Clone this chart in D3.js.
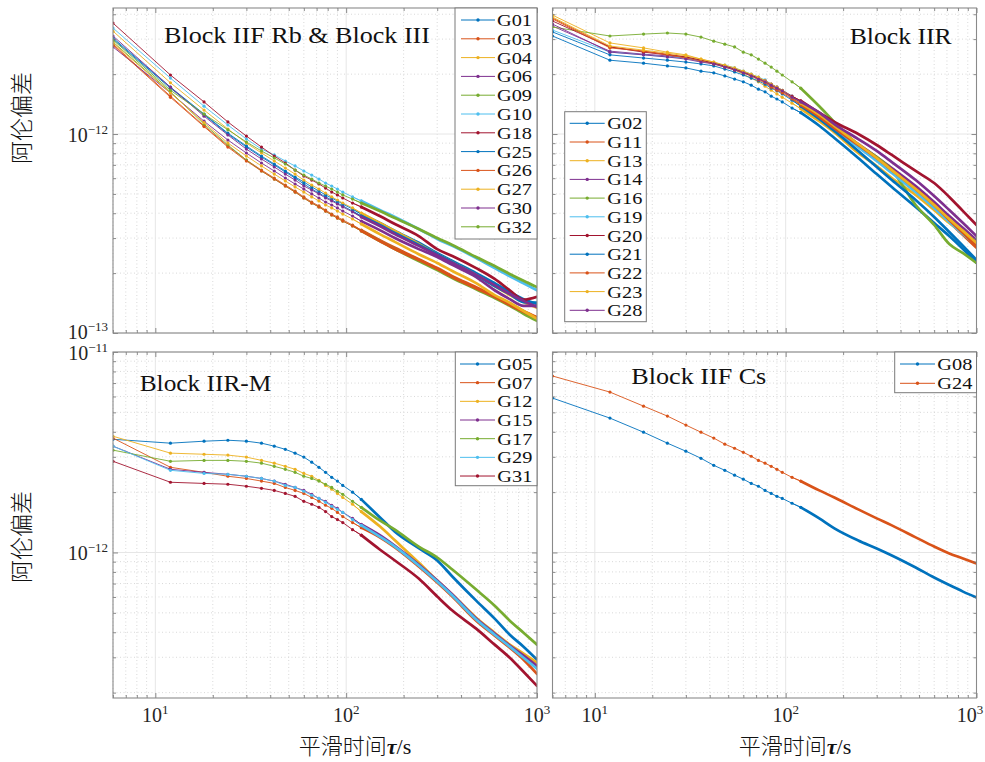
<!DOCTYPE html>
<html><head><meta charset="utf-8">
<script src="https://cdn.jsdelivr.net/npm/d3@7"></script>
<style>body{margin:0;background:#fff}</style>
</head><body>
<svg id="chart" width="985" height="762"></svg>
<script>
// ---------------- DATA (Allan deviation, values in units of 1e-12) ----------------
const UNIT = 1e-12;
const tau = [6,12,18,24,30,36,42,48,54,60,66,72,78,84,90,96,108,120,150,180,240,300,360,480,600,720,850,1000];

// Block IIF Rb & Block III
const namesRb = ["G01","G03","G04","G06","G09","G10","G18","G25","G26","G27","G30","G32"];
const G01 = [3.04,1.72,1.26,1.01,0.871,0.775,0.707,0.652,0.608,0.574,0.542,0.517,0.494,0.477,0.461,0.445,0.420,0.396,0.357,0.326,0.284,0.252,0.230,0.200,0.178,0.161,0.148,0.140];
const G03 = [2.83,1.55,1.10,0.871,0.740,0.659,0.601,0.554,0.517,0.483,0.455,0.435,0.415,0.396,0.383,0.370,0.349,0.329,0.293,0.268,0.235,0.212,0.193,0.170,0.153,0.140,0.129,0.120];
const G04 = [3.29,1.81,1.32,1.06,0.901,0.803,0.732,0.675,0.629,0.587,0.554,0.529,0.505,0.483,0.466,0.450,0.425,0.401,0.357,0.326,0.280,0.249,0.227,0.196,0.172,0.155,0.143,0.134];
const G06 = [2.74,1.61,1.16,0.933,0.803,0.715,0.652,0.601,0.561,0.529,0.500,0.477,0.455,0.440,0.425,0.410,0.387,0.365,0.329,0.300,0.264,0.241,0.220,0.191,0.164,0.148,0.137,0.137];
const G09 = [2.90,1.63,1.12,0.881,0.740,0.652,0.594,0.548,0.511,0.477,0.450,0.430,0.410,0.392,0.378,0.365,0.345,0.326,0.290,0.264,0.230,0.207,0.189,0.166,0.150,0.137,0.125,0.115];
const G10 = [3.41,1.91,1.38,1.11,0.944,0.840,0.785,0.732,0.691,0.652,0.622,0.594,0.567,0.548,0.529,0.511,0.483,0.461,0.415,0.383,0.333,0.297,0.274,0.238,0.212,0.193,0.178,0.164];
const G18 = [3.61,1.98,1.45,1.15,0.977,0.860,0.775,0.715,0.659,0.615,0.587,0.561,0.535,0.511,0.494,0.477,0.450,0.430,0.387,0.353,0.307,0.264,0.244,0.212,0.187,0.164,0.147,0.152];
const G25 = [3.00,1.70,1.25,1.00,0.860,0.766,0.699,0.644,0.601,0.561,0.529,0.505,0.483,0.466,0.450,0.435,0.410,0.387,0.349,0.318,0.277,0.249,0.227,0.196,0.172,0.157,0.143,0.142];
const G26 = [2.80,1.53,1.09,0.860,0.732,0.652,0.594,0.548,0.511,0.477,0.450,0.430,0.410,0.392,0.378,0.365,0.345,0.326,0.290,0.264,0.233,0.210,0.191,0.168,0.152,0.138,0.128,0.119];
const G27 = [2.87,1.61,1.14,0.901,0.775,0.691,0.629,0.581,0.542,0.511,0.483,0.461,0.440,0.425,0.410,0.396,0.374,0.353,0.314,0.287,0.249,0.225,0.205,0.178,0.155,0.142,0.129,0.118];
const G30 = [3.11,1.72,1.23,0.989,0.840,0.749,0.683,0.629,0.587,0.548,0.523,0.500,0.477,0.461,0.445,0.430,0.406,0.383,0.345,0.314,0.274,0.246,0.225,0.196,0.174,0.157,0.145,0.135];
const G32 = [2.97,1.66,1.26,1.05,0.912,0.822,0.758,0.707,0.659,0.622,0.594,0.567,0.548,0.529,0.511,0.494,0.471,0.450,0.410,0.378,0.333,0.300,0.277,0.241,0.217,0.198,0.183,0.170];

// Block IIR
const namesIIR = ["G02","G11","G13","G14","G16","G19","G20","G21","G22","G23","G28"];
const G02 = [3.11,2.35,2.27,2.20,2.15,2.07,2.03,1.96,1.89,1.83,1.76,1.68,1.63,1.55,1.50,1.45,1.35,1.28,1.10,0.955,0.758,0.629,0.542,0.430,0.357,0.307,0.264,0.225];
const G11 = [3.83,2.74,2.61,2.52,2.44,2.35,2.27,2.20,2.12,2.05,1.98,1.89,1.83,1.74,1.68,1.63,1.52,1.42,1.23,1.07,0.871,0.740,0.644,0.517,0.430,0.361,0.311,0.268];
const G13 = [3.96,2.87,2.71,2.58,2.50,2.38,2.30,2.20,2.10,2.00,1.91,1.83,1.74,1.66,1.59,1.53,1.43,1.34,1.16,1.02,0.803,0.691,0.601,0.494,0.415,0.357,0.318,0.287];
const G14 = [3.49,2.61,2.52,2.47,2.41,2.33,2.27,2.20,2.12,2.05,1.98,1.91,1.85,1.76,1.70,1.65,1.53,1.43,1.25,1.09,0.891,0.766,0.675,0.548,0.455,0.387,0.337,0.293];
const G16 = [3.45,3.11,3.18,3.22,3.18,3.07,2.93,2.83,2.74,2.58,2.50,2.38,2.27,2.17,2.07,1.98,1.83,1.70,1.38,1.15,0.881,0.766,0.659,0.440,0.349,0.280,0.252,0.225];
const G19 = [3.33,2.58,2.50,2.44,2.41,2.33,2.27,2.22,2.15,2.07,2.00,1.93,1.87,1.78,1.72,1.66,1.55,1.45,1.23,1.07,0.860,0.732,0.637,0.511,0.425,0.361,0.314,0.277];
const G20 = [3.70,2.74,2.58,2.50,2.44,2.35,2.27,2.20,2.12,2.05,1.98,1.91,1.85,1.78,1.72,1.66,1.55,1.47,1.28,1.15,1.00,0.881,0.785,0.652,0.567,0.483,0.410,0.349];
const G21 = [3.26,2.50,2.41,2.35,2.30,2.25,2.20,2.12,2.05,1.98,1.91,1.85,1.78,1.70,1.65,1.59,1.48,1.38,1.19,1.035,0.822,0.683,0.587,0.466,0.383,0.322,0.274,0.233];
const G22 = [3.79,2.71,2.61,2.50,2.41,2.33,2.25,2.17,2.10,2.03,1.96,1.87,1.81,1.72,1.66,1.61,1.50,1.40,1.22,1.07,0.881,0.758,0.659,0.529,0.440,0.370,0.318,0.274];
const G23 = [3.87,2.77,2.64,2.55,2.47,2.38,2.30,2.22,2.15,2.07,2.00,1.93,1.85,1.78,1.72,1.66,1.53,1.43,1.25,1.10,0.891,0.758,0.659,0.529,0.440,0.374,0.326,0.284];
const G28 = [3.57,2.58,2.50,2.44,2.38,2.30,2.25,2.17,2.10,2.03,1.96,1.89,1.83,1.76,1.70,1.65,1.53,1.45,1.28,1.12,0.944,0.822,0.723,0.587,0.488,0.415,0.357,0.307];

// Block IIR-M
const namesIIRM = ["G05","G07","G12","G15","G17","G29","G31"];
const G05 = [3.67,3.51,3.59,3.63,3.59,3.51,3.39,3.27,3.13,2.99,2.82,2.66,2.51,2.37,2.27,2.16,2.00,1.84,1.50,1.27,1.05,0.912,0.759,0.575,0.468,0.389,0.339,0.292];
const G07 = [3.72,2.66,2.51,2.40,2.34,2.27,2.21,2.11,2.04,1.97,1.88,1.80,1.72,1.66,1.585,1.51,1.41,1.33,1.19,1.06,0.851,0.708,0.603,0.457,0.385,0.335,0.292,0.248];
const G12 = [3.80,3.13,3.09,3.06,2.99,2.88,2.79,2.69,2.60,2.48,2.40,2.29,2.16,2.07,1.97,1.88,1.74,1.60,1.35,1.15,0.891,0.724,0.617,0.473,0.398,0.347,0.313,0.282];
const G15 = [3.39,2.60,2.51,2.455,2.40,2.34,2.27,2.19,2.11,2.04,1.95,1.86,1.80,1.72,1.66,1.585,1.48,1.38,1.22,1.08,0.871,0.724,0.617,0.468,0.394,0.343,0.306,0.272];
const G17 = [3.24,2.85,2.88,2.88,2.85,2.79,2.69,2.60,2.51,2.40,2.34,2.27,2.19,2.11,2.02,1.95,1.80,1.68,1.445,1.30,1.07,0.944,0.822,0.653,0.543,0.457,0.398,0.347];
const G29 = [3.39,2.57,2.48,2.455,2.40,2.34,2.27,2.16,2.11,2.02,1.93,1.86,1.78,1.70,1.64,1.585,1.46,1.365,1.20,1.07,0.861,0.716,0.610,0.463,0.389,0.339,0.2985,0.263];
const G31 = [2.85,2.24,2.21,2.19,2.14,2.09,2.04,1.97,1.905,1.80,1.74,1.68,1.60,1.51,1.46,1.41,1.30,1.22,1.035,0.912,0.741,0.603,0.513,0.417,0.347,0.2985,0.254,0.216];

// Block IIF Cs
const namesCs = ["G08","G24"];
const G08 = [5.89,4.68,3.98,3.51,3.20,2.95,2.72,2.57,2.43,2.32,2.21,2.14,2.04,1.97,1.905,1.86,1.76,1.68,1.48,1.32,1.148,1.047,0.966,0.841,0.750,0.688,0.638,0.596];
const G24 = [7.59,6.31,5.37,4.79,4.32,3.98,3.72,3.47,3.31,3.16,3.02,2.88,2.79,2.69,2.60,2.51,2.37,2.27,2.04,1.88,1.64,1.48,1.365,1.19,1.07,0.989,0.933,0.881];

// ---------------- LAYOUT ----------------
const COLORS = ['#0072BD','#D95319','#EDB120','#7E2F8E','#77AC30','#4DBEEE','#A2142F'];
const SERIF = "'Liberation Serif','Times New Roman',serif";
const CJK = "'Noto Sans CJK SC','Noto Sans CJK JP',sans-serif";

const panels = [
  {id:'tl', title:'Block IIF Rb & Block III', names:namesRb, data:[G01,G03,G04,G06,G09,G10,G18,G25,G26,G27,G30,G32],
   x0:113, x1:537, y0:8, y1:333, ydom:[1e-13,4.3e-12], tx:164, ty:43, tw:266,
   leg:{x:455,y:8,w:82,h:231,first:20,step:18.8,l0:461,l1:495,tx:497}, yLabels:true, xLabels:false},
  {id:'tr', title:'Block IIR', names:namesIIR, data:[G02,G11,G13,G14,G16,G19,G20,G21,G22,G23,G28],
   x0:552.5, x1:976.5, y0:8, y1:333, ydom:[1e-13,4.3e-12], tx:849.7, ty:44, tw:102,
   leg:{x:564.7,y:111.7,w:81.6,h:210,first:123.3,step:18.7,l0:569.7,l1:604.7,tx:607.3}, yLabels:false, xLabels:false},
  {id:'bl', title:'Block IIR-M', names:namesIIRM, data:[G05,G07,G12,G15,G17,G29,G31],
   x0:113, x1:537, y0:352, y1:698, ydom:[1.88e-13,1e-11], tx:139.7, ty:390.7, tw:131.6,
   leg:{x:455.3,y:352,w:81.7,h:133.7,first:364,step:18.67,l0:460,l1:495,tx:497.3}, yLabels:true, xLabels:true},
  {id:'br', title:'Block IIF Cs', names:namesCs, data:[G08,G24],
   x0:552.5, x1:976.5, y0:352, y1:698, ydom:[1.88e-13,1e-11], tx:631.3, ty:384.3, tw:135,
   leg:{x:894.7,y:352,w:81.8,h:40.7,first:364,step:19.3,l0:900,l1:935,tx:937.3}, yLabels:false, xLabels:true}
];

const svg = d3.select('#chart');
const isMajor = v => Math.abs(Math.log10(v) - Math.round(Math.log10(v))) < 1e-6;
const expOf = v => Math.round(Math.log10(v));

function drawPanel(p){
  const x = d3.scaleLog().domain([6,1000]).range([p.x0,p.x1]);
  const y = d3.scaleLog().domain(p.ydom).range([p.y1,p.y0]);
  const g = svg.append('g');
  svg.append('clipPath').attr('id','clip-'+p.id).append('rect')
    .attr('x',p.x0).attr('y',p.y0).attr('width',p.x1-p.x0).attr('height',p.y1-p.y0);

  const xt = x.ticks(), yt = y.ticks();
  const xMaj = xt.filter(isMajor), xMin = xt.filter(v=>!isMajor(v));
  const yMaj = yt.filter(isMajor), yMin = yt.filter(v=>!isMajor(v));

  // grid
  const grid = g.append('g');
  xMin.forEach(v=>grid.append('line').attr('x1',x(v)).attr('x2',x(v)).attr('y1',p.y0).attr('y2',p.y1)
    .attr('stroke','#cfcfcf').attr('stroke-width',0.8).attr('stroke-dasharray','1,2.5'));
  yMin.forEach(v=>grid.append('line').attr('y1',y(v)).attr('y2',y(v)).attr('x1',p.x0).attr('x2',p.x1)
    .attr('stroke','#cfcfcf').attr('stroke-width',0.8).attr('stroke-dasharray','1,2.5'));
  xMaj.forEach(v=>grid.append('line').attr('x1',x(v)).attr('x2',x(v)).attr('y1',p.y0).attr('y2',p.y1)
    .attr('stroke','#e6e6e6').attr('stroke-width',1));
  yMaj.forEach(v=>grid.append('line').attr('y1',y(v)).attr('y2',y(v)).attr('x1',p.x0).attr('x2',p.x1)
    .attr('stroke','#e6e6e6').attr('stroke-width',1));

  // series
  const gl = g.append('g').attr('clip-path',`url(#clip-${p.id})`);
  const line = d3.line().x(d=>x(d[0])).y(d=>y(d[1]));
  const smooth = d3.line().x(d=>x(d[0])).y(d=>y(d[1])).curve(d3.curveMonotoneX);
  p.data.forEach((vals,i)=>{
    const col = COLORS[i % COLORS.length];
    const pts = tau.map((t,j)=>[t, vals[j]*UNIT]);
    const head = pts.filter(d=>d[0]<=120), tail = pts.filter(d=>d[0]>=108);
    gl.append('path').attr('d',line(head)).attr('fill','none').attr('stroke',col).attr('stroke-width',0.9);
    gl.append('path').attr('d',smooth(tail)).attr('fill','none').attr('stroke',col).attr('stroke-width',0.9);
    gl.append('path').attr('d',smooth(pts.filter(d=>d[0]>=120))).attr('fill','none').attr('stroke',col)
      .attr('stroke-width',2.7).attr('stroke-linejoin','round').attr('stroke-linecap','round');
    gl.selectAll(null).data(pts.filter(d=>d[0]<=120)).enter().append('circle')
      .attr('cx',d=>x(d[0])).attr('cy',d=>y(d[1])).attr('r',1.6).attr('fill',col);
  });

  // axes ticks (inward, all sides)
  const ax = g.append('g').attr('class','ax');
  const mk = (axis, vals, size) => axis.tickValues(vals).tickSizeInner(-size).tickSizeOuter(0).tickFormat('');
  [[xMaj,5],[xMin,3]].forEach(([vals,s])=>{
    ax.append('g').attr('transform',`translate(0,${p.y1})`).call(mk(d3.axisBottom(x),vals,s));
    ax.append('g').attr('transform',`translate(0,${p.y0})`).call(mk(d3.axisTop(x),vals,s));
  });
  [[yMaj,5],[yMin,3]].forEach(([vals,s])=>{
    ax.append('g').attr('transform',`translate(${p.x0},0)`).call(mk(d3.axisLeft(y),vals,s));
    ax.append('g').attr('transform',`translate(${p.x1},0)`).call(mk(d3.axisRight(y),vals,s));
  });
  ax.selectAll('.domain').remove();
  ax.selectAll('.tick line').attr('stroke','#6e6e6e').attr('stroke-width',0.8);
  g.append('rect').attr('x',p.x0).attr('y',p.y0).attr('width',p.x1-p.x0).attr('height',p.y1-p.y0)
    .attr('fill','none').attr('stroke','#8a8a8a').attr('stroke-width',1.1);

  // tick labels
  if(p.xLabels){
    xMaj.forEach(v=>{
      const t = g.append('text').attr('x',Math.min(x(v),970)).attr('y',p.y1+24).attr('text-anchor','middle')
        .attr('font-family',SERIF).attr('font-size',20).attr('fill','#262626');
      t.append('tspan').text('10');
      t.append('tspan').attr('dy',-8).attr('font-size',13).text(String(expOf(v)));
    });
  }
  if(p.yLabels){
    yMaj.forEach(v=>{
      const yy = y(v) + (Math.abs(y(v)-p.y1)<1 ? 5.5 : 8);
      const t = g.append('text').attr('x',p.x0-5).attr('y',yy).attr('text-anchor','end')
        .attr('font-family',SERIF).attr('font-size',20).attr('fill','#262626');
      t.append('tspan').text('10');
      t.append('tspan').attr('dy',-8).attr('font-size',13).text('\u2212'+Math.abs(expOf(v)));
    });
  }

  // title
  g.append('text').attr('x',p.tx).attr('y',p.ty).attr('font-family',SERIF).attr('font-size',24)
    .attr('fill','#111').attr('textLength',p.tw).attr('lengthAdjust','spacingAndGlyphs').text(p.title);

  // legend
  const L = p.leg;
  const lg = g.append('g');
  lg.append('rect').attr('x',L.x).attr('y',L.y).attr('width',L.w).attr('height',L.h)
    .attr('fill','#fff').attr('stroke','#7a7a7a').attr('stroke-width',1);
  p.names.forEach((n,i)=>{
    const col = COLORS[i % COLORS.length];
    const cy = L.first + i*L.step;
    lg.append('line').attr('x1',L.l0).attr('x2',L.l1).attr('y1',cy).attr('y2',cy).attr('stroke',col).attr('stroke-width',1);
    lg.append('circle').attr('cx',(L.l0+L.l1)/2).attr('cy',cy).attr('r',1.7).attr('fill',col);
    lg.append('text').attr('x',L.tx).attr('y',cy+6).attr('font-family',SERIF).attr('font-size',16)
      .attr('fill','#111').attr('textLength',35).attr('lengthAdjust','spacingAndGlyphs').text(n);
  });
}
panels.forEach(drawPanel);

// axis labels
[355, 795].forEach(cx=>{
  const t = svg.append('text').attr('x',cx).attr('y',754).attr('text-anchor','middle').attr('fill','#111').attr('font-size',22);
  t.append('tspan').attr('font-family',CJK).attr('font-weight',300).text('平滑时间');
  t.append('tspan').attr('font-family',SERIF).attr('font-style','italic').attr('font-weight','bold').text('τ');
  t.append('tspan').attr('font-family',SERIF).text('/s');
});
[118, 537].forEach(cy=>{
  svg.append('text').attr('transform',`translate(30,${cy}) rotate(-90)`).attr('text-anchor','middle')
    .attr('font-family',CJK).attr('font-weight',300).attr('font-size',23).attr('fill','#111').text('阿伦偏差');
});
</script>
</body></html>
